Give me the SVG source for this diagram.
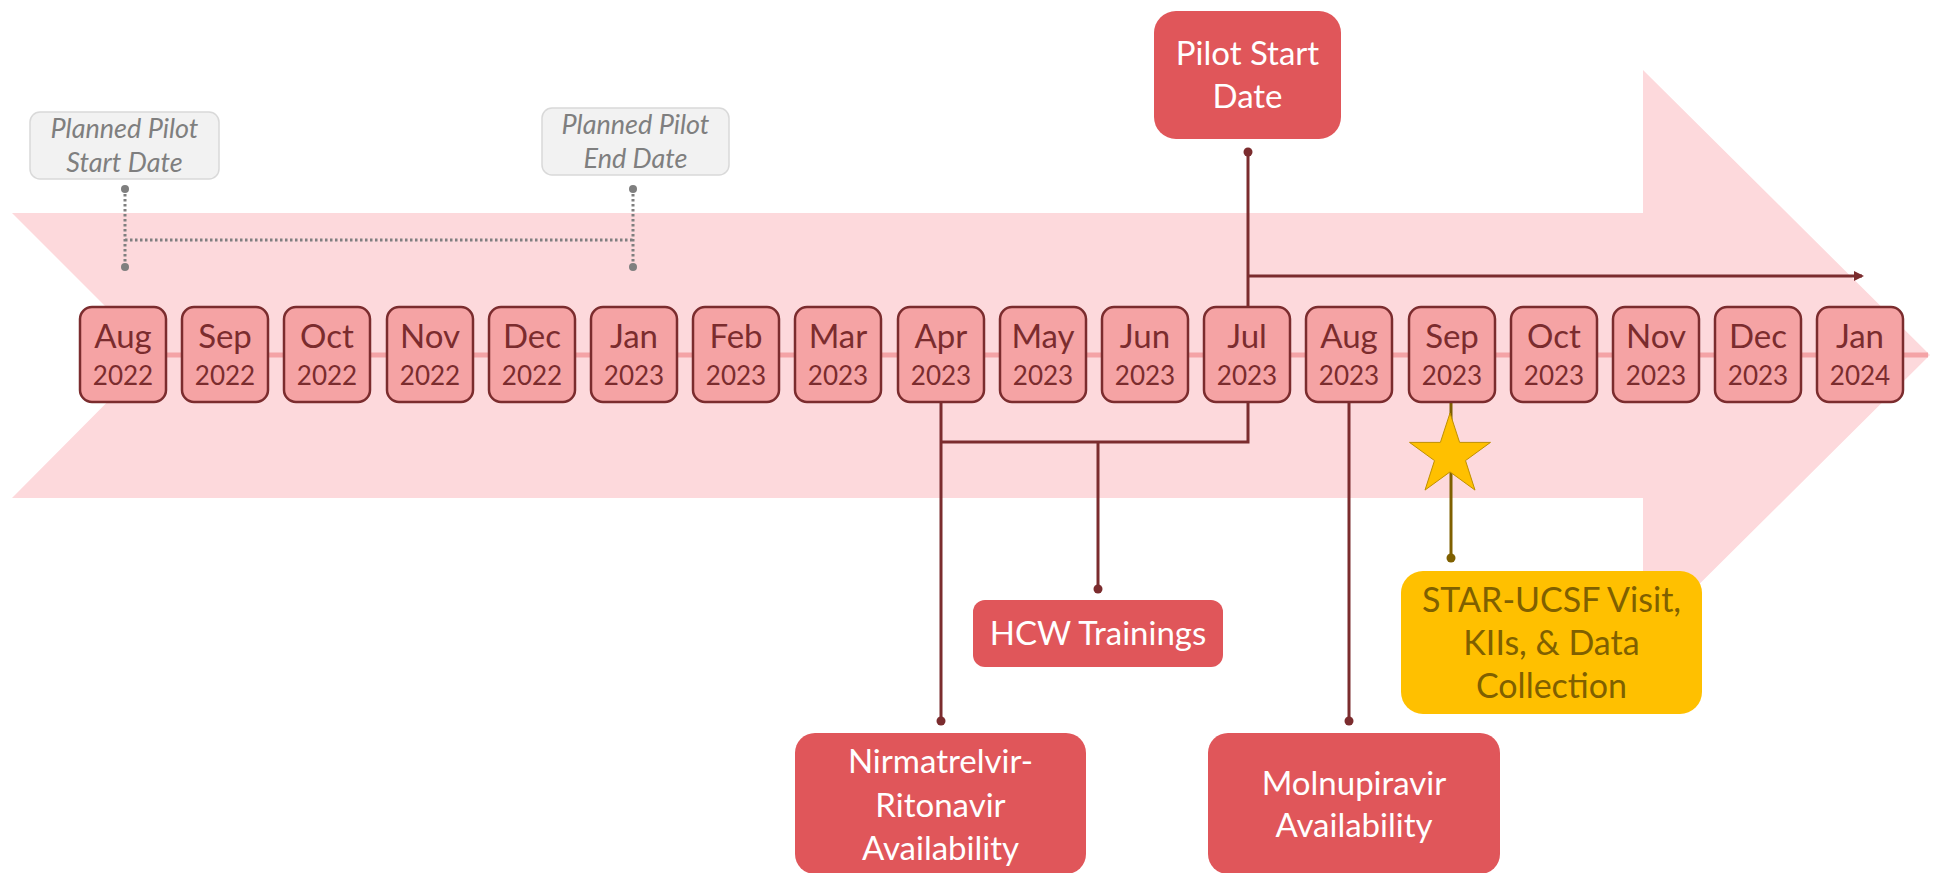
<svg xmlns="http://www.w3.org/2000/svg" width="1933" height="873" viewBox="0 0 1933 873">
<style>
.mbox{fill:#f5a3a4;stroke:#7b2c2e;stroke-width:2.5}
.mon{font-family:Lato,"Open Sans",sans-serif;font-size:33px;fill:#7b2c2e;text-anchor:middle}
.yr{font-family:Lato,"Open Sans",sans-serif;font-size:26px;fill:#7b2c2e;text-anchor:middle}
.red{fill:#e0565a}
.wt{font-family:Lato,"Open Sans",sans-serif;font-size:33px;fill:#ffffff;text-anchor:middle}
.gbox{fill:#f2f2f2;stroke:#d9d9d9;stroke-width:1.5}
.gt{font-family:Lato,"Open Sans",sans-serif;font-size:27px;font-style:italic;fill:#7f7f7f;text-anchor:middle}
.yt{font-family:Lato,"Open Sans",sans-serif;font-size:34px;fill:#7f6000;text-anchor:middle}
.con{fill:none;stroke:#7b2c2e;stroke-width:3}
.dot{fill:#7b2c2e}
.gcon{fill:none;stroke:#7f7f7f;stroke-width:3;stroke-dasharray:2.5 2.5}
</style>
<defs>
<marker id="arr" markerWidth="10" markerHeight="10" refX="8" refY="5" orient="auto" markerUnits="userSpaceOnUse" viewBox="0 0 10 10">
<path d="M0,0 L10,5 L0,10 Z" fill="#7b2c2e"/>
</marker>
</defs>
<g id="band">
<polygon points="12,213 1643,213 1643,70 1930,355 1643,640 1643,498 12,498 154,355" fill="#fdd9dc"/>
<line x1="120" y1="355" x2="1928" y2="355" stroke="#f4a3a6" stroke-width="5"/>
</g>
<g id="connectors">
<path class="gcon" d="M125,189 V267 M633,189 V267 M125,240 H633"/>
<circle cx="125" cy="189" r="4" fill="#7f7f7f"/>
<circle cx="125" cy="267" r="4" fill="#7f7f7f"/>
<circle cx="633" cy="189" r="4" fill="#7f7f7f"/>
<circle cx="633" cy="267" r="4" fill="#7f7f7f"/>
<path class="con" d="M1248,152 V307"/>
<path class="con" d="M1248,276 H1862" marker-end="url(#arr)"/>
<circle class="dot" cx="1248" cy="152" r="4.5"/>
<path class="con" d="M1248,402 V442 H941"/>
<path class="con" d="M941,402 V721"/>
<circle class="dot" cx="941" cy="721" r="4.5"/>
<path class="con" d="M1098,442 V589"/>
<circle class="dot" cx="1098" cy="589" r="4.5"/>
<path class="con" d="M1349,402 V721"/>
<circle class="dot" cx="1349" cy="721" r="4.5"/>
<path d="M1451,402 V558" fill="none" stroke="#7f6000" stroke-width="3"/>
<circle cx="1451" cy="558" r="4.5" fill="#7f6000"/>
</g>
<g id="months">
<g id="m-aug-2022"><rect class="mbox" x="80" y="307" width="86" height="95" rx="12"/><text class="mon" x="123" y="348">Aug</text><text class="yr" x="123" y="385">2022</text></g>
<g id="m-sep-2022"><rect class="mbox" x="182" y="307" width="86" height="95" rx="12"/><text class="mon" x="225" y="348">Sep</text><text class="yr" x="225" y="385">2022</text></g>
<g id="m-oct-2022"><rect class="mbox" x="284" y="307" width="86" height="95" rx="12"/><text class="mon" x="327" y="348">Oct</text><text class="yr" x="327" y="385">2022</text></g>
<g id="m-nov-2022"><rect class="mbox" x="387" y="307" width="86" height="95" rx="12"/><text class="mon" x="430" y="348">Nov</text><text class="yr" x="430" y="385">2022</text></g>
<g id="m-dec-2022"><rect class="mbox" x="489" y="307" width="86" height="95" rx="12"/><text class="mon" x="532" y="348">Dec</text><text class="yr" x="532" y="385">2022</text></g>
<g id="m-jan-2023"><rect class="mbox" x="591" y="307" width="86" height="95" rx="12"/><text class="mon" x="634" y="348">Jan</text><text class="yr" x="634" y="385">2023</text></g>
<g id="m-feb-2023"><rect class="mbox" x="693" y="307" width="86" height="95" rx="12"/><text class="mon" x="736" y="348">Feb</text><text class="yr" x="736" y="385">2023</text></g>
<g id="m-mar-2023"><rect class="mbox" x="795" y="307" width="86" height="95" rx="12"/><text class="mon" x="838" y="348">Mar</text><text class="yr" x="838" y="385">2023</text></g>
<g id="m-apr-2023"><rect class="mbox" x="898" y="307" width="86" height="95" rx="12"/><text class="mon" x="941" y="348">Apr</text><text class="yr" x="941" y="385">2023</text></g>
<g id="m-may-2023"><rect class="mbox" x="1000" y="307" width="86" height="95" rx="12"/><text class="mon" x="1043" y="348">May</text><text class="yr" x="1043" y="385">2023</text></g>
<g id="m-jun-2023"><rect class="mbox" x="1102" y="307" width="86" height="95" rx="12"/><text class="mon" x="1145" y="348">Jun</text><text class="yr" x="1145" y="385">2023</text></g>
<g id="m-jul-2023"><rect class="mbox" x="1204" y="307" width="86" height="95" rx="12"/><text class="mon" x="1247" y="348">Jul</text><text class="yr" x="1247" y="385">2023</text></g>
<g id="m-aug-2023"><rect class="mbox" x="1306" y="307" width="86" height="95" rx="12"/><text class="mon" x="1349" y="348">Aug</text><text class="yr" x="1349" y="385">2023</text></g>
<g id="m-sep-2023"><rect class="mbox" x="1409" y="307" width="86" height="95" rx="12"/><text class="mon" x="1452" y="348">Sep</text><text class="yr" x="1452" y="385">2023</text></g>
<g id="m-oct-2023"><rect class="mbox" x="1511" y="307" width="86" height="95" rx="12"/><text class="mon" x="1554" y="348">Oct</text><text class="yr" x="1554" y="385">2023</text></g>
<g id="m-nov-2023"><rect class="mbox" x="1613" y="307" width="86" height="95" rx="12"/><text class="mon" x="1656" y="348">Nov</text><text class="yr" x="1656" y="385">2023</text></g>
<g id="m-dec-2023"><rect class="mbox" x="1715" y="307" width="86" height="95" rx="12"/><text class="mon" x="1758" y="348">Dec</text><text class="yr" x="1758" y="385">2023</text></g>
<g id="m-jan-2024"><rect class="mbox" x="1817" y="307" width="86" height="95" rx="12"/><text class="mon" x="1860" y="348">Jan</text><text class="yr" x="1860" y="385">2024</text></g>
</g>
<g id="star">
<polygon points="1450,413 1459.6,442.4 1490.5,442.4 1465.5,460.6 1475,490.1 1450,471.9 1425,490.1 1434.5,460.6 1409.5,442.4 1440.4,442.4" fill="#ffc000" stroke="#bf9000" stroke-width="1"/>
</g>
<g id="planned-start">
<rect class="gbox" x="30" y="112" width="189" height="67" rx="10"/>
<text class="gt" x="124.5" y="138">Planned Pilot</text>
<text class="gt" x="124.5" y="172">Start Date</text>
</g>
<g id="planned-end">
<rect class="gbox" x="542" y="108" width="187" height="67" rx="10"/>
<text class="gt" x="635.5" y="134">Planned Pilot</text>
<text class="gt" x="635.5" y="168">End Date</text>
</g>
<g id="pilot-start">
<rect class="red" x="1154" y="11" width="187" height="128" rx="22"/>
<text class="wt" x="1247.5" y="65">Pilot Start</text>
<text class="wt" x="1247.5" y="108">Date</text>
</g>
<g id="hcw">
<rect class="red" x="973" y="600" width="250" height="67" rx="12"/>
<text class="wt" x="1098" y="645">HCW Trainings</text>
</g>
<g id="nirmatrelvir">
<rect class="red" x="795" y="733" width="291" height="141" rx="20"/>
<text class="wt" x="940.5" y="773">Nirmatrelvir-</text>
<text class="wt" x="940.5" y="817">Ritonavir</text>
<text class="wt" x="940.5" y="860">Availability</text>
</g>
<g id="molnupiravir">
<rect class="red" x="1208" y="733" width="292" height="141" rx="20"/>
<text class="wt" x="1354" y="795">Molnupiravir</text>
<text class="wt" x="1354" y="837">Availability</text>
</g>
<g id="star-ucsf">
<rect x="1401" y="571" width="301" height="143" rx="22" fill="#ffc000"/>
<text class="yt" x="1551.5" y="612">STAR-UCSF Visit,</text>
<text class="yt" x="1551.5" y="655">KIIs, &amp; Data</text>
<text class="yt" x="1551.5" y="698">Collection</text>
</g>
</svg>
